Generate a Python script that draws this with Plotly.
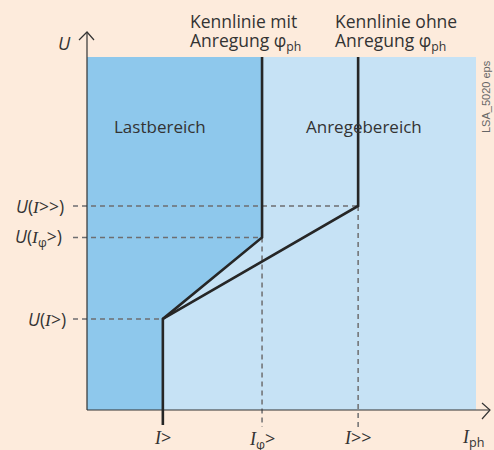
import plotly.graph_objects as go

# ---------------- data (conceptual units: plot region spans 0..10 on both axes)
I_names = ["I>", "Iφ>", "I>>", "Iph"]
I_vals = [1.95, 4.5, 6.97, 9.92]          # I>, Iφ>, I>>, (axis label position)
U_names = ["U(I>)", "U(Iφ>)", "U(I>>)"]
U_vals = [2.58, 4.89, 5.78]               # U(I>), U(Iφ>), U(I>>)
I_max = 10.0
U_max = 10.0
region_names = ["Lastbereich", "Anregebereich"]
curve_line1 = ["Kennlinie mit", "Kennlinie ohne"]
curve_line2 = ["Anregung φ<sub>ph</sub>", "Anregung φ<sub>ph</sub>"]

# ---------------- pixel geometry of the canvas
W, H = 494, 450
X0PX, SX = 87.0, 38.9      # pixel of x=0, px per unit
Y0PX, SY = 410.0, 35.3     # pixel of y=0, px per unit

def px2x(p):
    return (p - X0PX) / SX

def py2y(p):
    return (Y0PX - p) / SY

I1, Iphi, I2, Iph = I_vals
U1, Uphi, U2 = U_vals

BG = "#FDEBDC"
DARK = "#8EC8EC"
LIGHT = "#C6E2F5"
LINE = "#262626"
DASH = "#6E6E70"
FONT = "Open Sans"
SERIF = "Liberation Serif"

fig = go.Figure()

# light blue area
fig.add_trace(go.Scatter(x=[0, I_max, I_max, 0, 0], y=[0, 0, U_max, U_max, 0],
                         fill="toself", fillcolor=LIGHT, line=dict(width=0),
                         mode="lines", hoverinfo="skip"))
# dark blue (load) area
fig.add_trace(go.Scatter(x=[0, 0, Iphi, Iphi, I1, I1, 0],
                         y=[0, U_max, U_max, Uphi, U1, 0, 0],
                         fill="toself", fillcolor=DARK, line=dict(width=0),
                         mode="lines", hoverinfo="skip"))

# dashed guides
xl = px2x(73)
yb = py2y(427)
for u, ix in [(U1, I1), (Uphi, Iphi), (U2, I2)]:
    fig.add_trace(go.Scatter(x=[xl, ix], y=[u, u], mode="lines",
                             line=dict(color=DASH, width=1.5, dash="5px,4px"), hoverinfo="skip"))
for u, ix in [(Uphi, Iphi), (U2, I2)]:
    fig.add_trace(go.Scatter(x=[ix, ix], y=[u, yb], mode="lines",
                             line=dict(color=DASH, width=1.5, dash="5px,4px"), hoverinfo="skip"))

# axes with arrows
ax_col = "#333333"
fig.add_trace(go.Scatter(x=[0, 0], y=[0, py2y(32)], mode="lines",
                         line=dict(color=ax_col, width=1.2), hoverinfo="skip"))
fig.add_trace(go.Scatter(x=[px2x(79), 0, px2x(94)], y=[py2y(40), py2y(32), py2y(40)], mode="lines",
                         line=dict(color=ax_col, width=1.2), hoverinfo="skip"))
fig.add_trace(go.Scatter(x=[0, px2x(490)], y=[0, 0], mode="lines",
                         line=dict(color=ax_col, width=1.2), hoverinfo="skip"))
fig.add_trace(go.Scatter(x=[px2x(482), px2x(490), px2x(482)], y=[py2y(403), 0, py2y(419)], mode="lines",
                         line=dict(color=ax_col, width=1.2), hoverinfo="skip"))

# characteristics
fig.add_trace(go.Scatter(x=[I1, I1, Iphi, Iphi], y=[py2y(425), U1, Uphi, U_max], mode="lines",
                         line=dict(color=LINE, width=2.6), hoverinfo="skip"))
fig.add_trace(go.Scatter(x=[I1, I2, I2], y=[U1, U2, U_max], mode="lines",
                         line=dict(color=LINE, width=2.6), hoverinfo="skip"))

ann = []
TXT = "#333333"
def it_serif(s):
    return f"<span style='font-family:{SERIF};font-style:italic'>{s}</span>"

# y-axis labels
U_html = [
    "<i>U</i>(" + it_serif("I") + "&gt;)",
    "<i>U</i>(" + it_serif("I") + "<sub>φ</sub>&gt;)",
    "<i>U</i>(" + it_serif("I") + "&gt;&gt;)",
]
U_right = [68, 64, 66]
for h, u, r in zip(U_html, U_vals, U_right):
    ann.append(dict(x=px2x(r), y=u, text=h, xanchor="right", yanchor="middle", showarrow=False,
                    font=dict(family=FONT, size=17.5, color=TXT)))
ann.append(dict(x=px2x(73), y=py2y(43), text="<i>U</i>", xanchor="right", yanchor="middle",
                showarrow=False, font=dict(family=FONT, size=18, color=TXT)))

# x-axis labels
I_html = [
    it_serif("I") + "&gt;",
    it_serif("I") + "<sub>φ</sub>&gt;",
    it_serif("I") + "&gt;&gt;",
    it_serif("I") + "<sub>ph</sub>",
]
I_lab_y = [437, 439, 437, 439]
for h, ix, ly in zip(I_html, I_vals, I_lab_y):
    ann.append(dict(x=ix, y=py2y(ly), text=h, xanchor="center", yanchor="middle", showarrow=False,
                    font=dict(family=FONT, size=18, color=TXT)))

# region labels
ann.append(dict(x=px2x(160), y=py2y(126), text=region_names[0], showarrow=False,
                xanchor="center", yanchor="middle", font=dict(family=FONT, size=17, color=TXT)))
ann.append(dict(x=px2x(364), y=py2y(126), text=region_names[1], showarrow=False,
                xanchor="center", yanchor="middle", font=dict(family=FONT, size=17, color=TXT)))

# curve labels (two separate lines for tight spacing)
for xleft, l1, l2 in zip([188, 333], curve_line1, curve_line2):
    ann.append(dict(x=px2x(xleft), y=py2y(21), text=l1, showarrow=False,
                    xanchor="left", yanchor="middle", font=dict(family=FONT, size=17.5, color=TXT)))
    ann.append(dict(x=px2x(xleft), y=py2y(41), text=l2, showarrow=False,
                    xanchor="left", yanchor="middle", font=dict(family=FONT, size=17.5, color=TXT)))

# id tag
ann.append(dict(x=px2x(486), y=py2y(97), text="LSA_5020 eps", textangle=-90, showarrow=False,
                xanchor="center", yanchor="middle",
                font=dict(family="Liberation Sans Narrow, Liberation Sans", size=11, color="#666666")))

fig.update_layout(
    width=W, height=H, margin=dict(l=0, r=0, t=0, b=0),
    paper_bgcolor=BG, plot_bgcolor=BG, showlegend=False,
    xaxis=dict(visible=False, range=[px2x(0), px2x(W)], fixedrange=True),
    yaxis=dict(visible=False, range=[py2y(H), py2y(0)], fixedrange=True),
    annotations=ann,
)
fig.write_html("out.html", config={"displayModeBar": False},
               post_script="document.body.style.margin='0';document.body.style.overflow='hidden';")
